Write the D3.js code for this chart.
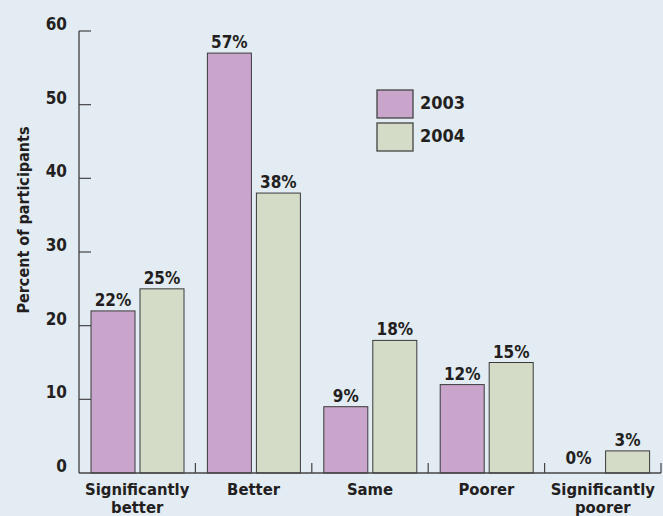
<!DOCTYPE html>
<html>
<head>
<meta charset="utf-8">
<script src="https://cdn.jsdelivr.net/npm/d3@7"></script>
<style>
  body { margin: 0; background: #e3ebf3; }
  svg { display: block; }
  text { font-family: "DejaVu Sans Condensed", "DejaVu Sans", sans-serif; font-weight: bold; fill: #231f20; }
</style>
</head>
<body>
<script>
const categories = ['Significantly\nbetter', 'Better', 'Same', 'Poorer', 'Significantly\npoorer'];
const years = ['2003', '2004'];
const values2003 = [22, 57, 9, 12, 0];
const values2004 = [25, 38, 18, 15, 3];
const yTicks = [0, 10, 20, 30, 40, 50, 60];

const width = 663, height = 516;
const colors = { '2003': '#c9a5cb', '2004': '#d4dcc7' };

const svg = d3.select('body').append('svg').attr('width', width).attr('height', height);

const x0 = d3.scaleBand().domain(categories).range([79, 661]);
const x1 = d3.scaleBand().domain(years).range([12, 105]).paddingInner(0.102);
const y = d3.scaleLinear().domain([0, 60]).range([473, 31]);

const rows = categories.map((c, i) => ({ cat: c, vals: [
    { year: '2003', v: values2003[i] },
    { year: '2004', v: values2004[i] }
]}));

// y axis
svg.append('line').attr('x1', 79).attr('x2', 79).attr('y1', y(60)).attr('y2', y(0))
    .style('stroke', '#555').style('stroke-width', 1.5);
svg.selectAll('line.ytick').data(yTicks.filter(d => d > 0)).enter().append('line').classed('ytick', true)
    .attr('x1', 79).attr('x2', 91).attr('y1', d => y(d)).attr('y2', d => y(d))
    .style('stroke', '#444').style('stroke-width', 1.2);
svg.selectAll('text.ylab').data(yTicks).enter().append('text').classed('ylab', true)
    .attr('x', 67).attr('y', d => y(d) - 1).attr('text-anchor', 'end')
    .style('font-size', '17px').text(d => d);

svg.append('text')
    .attr('transform', 'translate(29,220) rotate(-90)')
    .attr('text-anchor', 'middle').style('font-size', '16px')
    .text('Percent of participants');

// bars
const groups = svg.selectAll('g.cat').data(rows).enter().append('g').classed('cat', true)
    .attr('transform', d => `translate(${x0(d.cat)},0)`);

groups.selectAll('rect').data(d => d.vals.filter(v => v.v > 0)).enter().append('rect')
    .attr('x', d => x1(d.year)).attr('width', x1.bandwidth())
    .attr('y', d => y(d.v)).attr('height', d => y(0) - y(d.v))
    .style('fill', d => colors[d.year]).style('stroke', '#3a3a3a').style('stroke-width', 1);

groups.selectAll('text.val').data(d => d.vals).enter().append('text').classed('val', true)
    .attr('x', d => x1(d.year) + x1.bandwidth() / 2)
    .attr('y', d => y(d.v) - (d.v === 0 ? 9 : 5))
    .attr('text-anchor', 'middle').style('font-size', '17px')
    .text(d => d.v + '%');

// x axis
svg.append('line').attr('x1', 79).attr('x2', 661).attr('y1', y(0)).attr('y2', y(0))
    .style('stroke', '#444').style('stroke-width', 1.5);
svg.selectAll('line.xtick').data(categories).enter().append('line').classed('xtick', true)
    .attr('x1', d => x0(d) + x0.bandwidth()).attr('x2', d => x0(d) + x0.bandwidth())
    .attr('y1', y(0) - 10).attr('y2', y(0))
    .style('stroke', '#444').style('stroke-width', 1.2);

const catLabels = svg.selectAll('text.cat').data(categories).enter().append('text').classed('cat', true)
    .attr('x', d => x0(d) + x0.bandwidth() / 2).attr('y', 495)
    .attr('text-anchor', 'middle').style('font-size', '16.5px');
catLabels.selectAll('tspan').data(d => d.split('\n')).enter().append('tspan')
    .attr('x', function() { return d3.select(this.parentNode).attr('x'); })
    .attr('dy', (d, i) => i === 0 ? 0 : 18)
    .text(d => d);

// legend
const legend = svg.selectAll('g.legend').data(years).enter().append('g').classed('legend', true)
    .attr('transform', (d, i) => `translate(377,${90 + i * 33})`);
legend.append('rect').attr('width', 36).attr('height', 28)
    .style('fill', d => colors[d]).style('stroke', '#444').style('stroke-width', 1.3);
legend.append('text').attr('x', 43).attr('y', 19).style('font-size', '18px').text(d => d);
</script>
</body>
</html>
